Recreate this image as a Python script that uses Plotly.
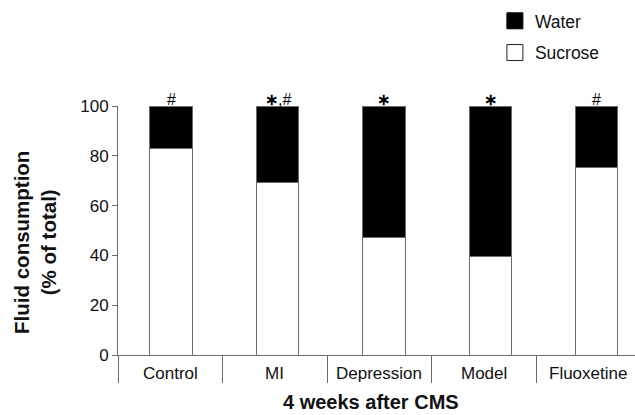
import plotly.graph_objects as go

categories = ["Control", "MI", "Depression", "Model", "Fluoxetine"]
sucrose = [83.0, 69.3, 47.3, 39.5, 75.5]
water = [round(100 - s, 1) for s in sucrose]
marks = ["#", "*,#", "*", "*", "#"]

FONT = "Liberation Sans, Arial, sans-serif"
GRAY = "#6b6b6b"
pos = list(range(len(categories)))

fig = go.Figure()
fig.add_trace(go.Bar(x=pos, y=sucrose, name="Sucrose", width=0.4,
                     marker=dict(color="white", line=dict(color=GRAY, width=1)),
                     showlegend=False))
fig.add_trace(go.Bar(x=pos, y=water, name="Water", width=0.4,
                     marker=dict(color="black", line=dict(color=GRAY, width=1)),
                     showlegend=False))
# legend entries
fig.add_trace(go.Scatter(x=[None], y=[None], mode="markers", name="Water",
                         legendgroup="w",
                         marker=dict(symbol="square", size=16, color="black",
                                     line=dict(color="black", width=1))))
fig.add_trace(go.Scatter(x=[None], y=[None], mode="markers", name="Sucrose",
                         legendgroup="s",
                         marker=dict(symbol="square", size=16, color="white",
                                     line=dict(color="#222", width=1))))
# category axis for group boundaries
fig.add_trace(go.Scatter(x=categories, y=[None]*len(categories), xaxis="x2",
                         mode="markers", showlegend=False, hoverinfo="skip"))

annotations = []
for p, s, w, m in zip(pos, sucrose, water, marks):
    txt = m.replace("*", "<b>\u2217</b>")
    annotations.append(dict(x=p, y=s + w, xref="x", yref="y", text=txt,
                            showarrow=False, yanchor="bottom", yshift=-4,
                            font=dict(family=FONT, size=16, color="black")))
for c in categories:
    annotations.append(dict(x=c, y=0, xref="x2", yref="y", text=c,
                            showarrow=False, yanchor="middle", yshift=-18,
                            font=dict(family=FONT, size=17, color="#111")))
annotations.append(dict(x=0.49, y=0, xref="paper", yref="paper",
                        text="<b>4 weeks after CMS</b>", showarrow=False,
                        yanchor="middle", yshift=-47,
                        font=dict(family=FONT, size=20, color="#111")))
annotations.append(dict(x=0, y=0.45, xref="paper", yref="paper",
                        text="<b>Fluid consumption<br>(% of total)</b>",
                        showarrow=False, textangle=-90, xanchor="center",
                        xshift=-83,
                        font=dict(family=FONT, size=20.5, color="#111")))

fig.update_layout(
    width=635, height=415,
    margin=dict(l=118, r=0, t=106, b=60, autoexpand=False),
    paper_bgcolor="white", plot_bgcolor="white",
    barmode="stack",
    font=dict(family=FONT, size=17, color="#111"),
    xaxis=dict(range=[-0.5, 4.36], showline=True, linecolor=GRAY, linewidth=1,
               showticklabels=False, ticks="", showgrid=False, zeroline=False,
               automargin=False),
    xaxis2=dict(type="category", overlaying="x", anchor="y", side="bottom",
                range=[-0.5, 4.447], tickson="boundaries", ticks="outside",
                ticklen=27, tickcolor=GRAY, tickwidth=1, showticklabels=False,
                showgrid=False, showline=False, zeroline=False,
                automargin=False),
    yaxis=dict(range=[0, 100], tickvals=[0, 20, 40, 60, 80, 100],
               ticks="outside", ticklen=5, tickcolor=GRAY, showline=True,
               linecolor=GRAY, linewidth=1, showgrid=False, zeroline=False,
               automargin=False,
               tickfont=dict(family=FONT, size=17, color="#111")),
    legend=dict(x=0.729, y=1.414, xanchor="left", yanchor="top",
                traceorder="grouped", tracegroupgap=6,
                font=dict(family=FONT, size=17.5, color="#111")),
    annotations=annotations,
)

fig.write_html("out.html", config={"displayModeBar": False},
               post_script="document.body.style.margin='0';")
